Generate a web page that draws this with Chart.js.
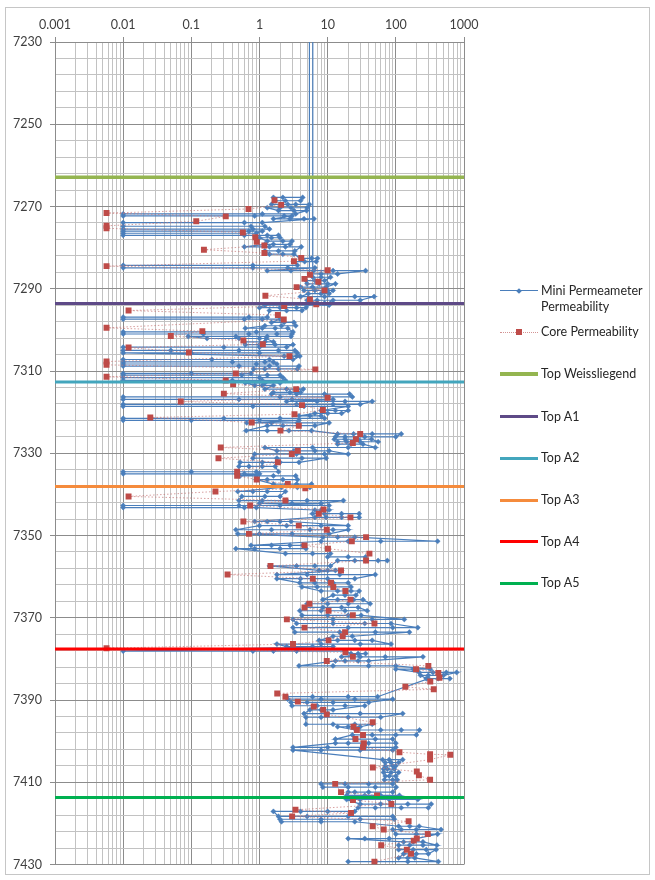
<!DOCTYPE html>
<html>
<head>
<meta charset="utf-8">
<script src="https://cdn.jsdelivr.net/npm/chart.js@4.4.1/dist/chart.umd.min.js"></script>
<style>
  body { margin: 0; background: #fff; }
  #wrap { position: relative; width: 655px; height: 880px; }
  #frame { position: absolute; left: 5px; top: 7px; width: 645px; height: 868px; border: 1px solid #c6c6c6; box-sizing: border-box; }
  #chart { position: absolute; left: 0; top: 0; }
  #legend { position: absolute; left: 0; top: 0; font: 12.5px Lato, sans-serif; color: #262626; }
  .item { position: absolute; left: 500px; width: 150px; }
  .sym { position: absolute; left: 0; width: 38px; height: 10px; }
  .txt { position: absolute; left: 41px; width: 108px; line-height: 16px; }
</style>
</head>
<body>
<div id="wrap">
  <div id="frame"></div>
  <canvas id="chart" width="655" height="880"></canvas>
  <div id="legend"></div>
</div>
<script>
// axis
const decades = [0.001, 0.01, 0.1, 1, 10, 100, 1000];
const depthMin = 7230;
const depthMax = 7430;
const depthLabelStep = 20;
const depthGridStep = 4;

// mini permeameter: one depth per row, several readings per depth
const miniDepth = [
  7267.8, 7268.6, 7269.5, 7270.3, 7271.0, 7271.8, 7272.3, 7273.0, 7273.9, 7274.8,
  7275.5, 7276.0, 7276.5, 7277.0, 7277.6, 7278.4, 7279.2, 7279.8, 7280.8, 7281.6,
  7282.6, 7283.4, 7284.3, 7284.9, 7285.6, 7286.4, 7200.0, 7287.2, 7288.0, 7288.8,
  7289.6, 7290.4, 7291.2, 7291.9, 7292.8, 7293.5, 7294.0, 7294.6, 7295.3, 7296.9,
  7297.4, 7298.2, 7299.0, 7299.6, 7300.5, 7301.0, 7301.6, 7302.1, 7302.9, 7303.6,
  7304.2, 7305.0, 7305.6, 7306.4, 7307.2, 7307.8, 7308.3, 7308.8, 7309.5, 7310.6,
  7311.0, 7311.6, 7312.3, 7312.9, 7313.5, 7314.4, 7315.2, 7315.6, 7316.3, 7316.9,
  7317.4, 7318.1, 7318.6, 7319.6, 7320.3, 7320.9, 7321.5, 7322.0, 7322.6, 7323.3,
  7324.5, 7325.3, 7326.0, 7326.6, 7327.2, 7327.8, 7328.6, 7329.4, 7330.2, 7331.2,
  7332.2, 7333.2, 7334.5, 7335.0, 7335.5, 7336.4, 7337.5, 7338.3, 7339.3, 7340.5,
  7341.5, 7342.2, 7342.7, 7343.2, 7343.8, 7344.7, 7345.6, 7346.6, 7347.6, 7348.6,
  7349.6, 7350.4, 7351.4, 7352.4, 7353.2, 7354.4, 7355.2, 7356.1, 7357.4, 7358.5,
  7359.5, 7360.5, 7361.5, 7362.5, 7363.5, 7364.5, 7365.6, 7366.6, 7367.5, 7368.3,
  7369.4, 7370.4, 7371.4, 7372.4, 7373.5, 7374.5, 7375.5, 7376.4, 7377.0, 7378.1,
  7378.7, 7379.5, 7380.5, 7381.7, 7382.5, 7383.3, 7384.0, 7384.8, 7389.2, 7389.8,
  7390.6, 7391.4, 7392.4, 7393.3, 7394.2, 7395.9, 7396.5, 7397.3, 7398.5, 7399.5,
  7400.5, 7401.5, 7402.2, 7404.5, 7405.2, 7406.0, 7406.8, 7407.6, 7408.5, 7409.4,
  7410.4, 7411.2, 7412.4, 7413.2, 7414.2, 7415.3, 7416.2, 7417.1, 7418.3, 7419.0,
  7419.6, 7420.7, 7421.5, 7422.6, 7423.7, 7424.5, 7425.3, 7426.4, 7427.4, 7428.4,
  7429.3
];
const miniPerm = [
  [1.6, 2.2, 4.3], [4.0, 2.4, 1.7], [1.5, 2.6, 3.4, 5.4], [5.0, 2.9, 2.0, 1.3], [1.9, 3.2, 4.9],
  [3.4, 1.1, 0.01], [0.01, 0.85, 2.3, 3.0], [1.6, 2.8, 4.5, 6.3], [1.1, 0.6, 0.01], [0.01, 0.75, 1.2],
  [1.4, 0.8, 0.01], [0.01, 0.7, 1.1], [0.9, 0.01], [0.01, 0.6, 1.3, 1.9], [2.0, 1.5, 1.0],
  [1.3, 2.2, 3.0], [2.8, 1.6, 1.2], [0.6, 1.4, 2.4, 4.1], [3.3, 1.9, 1.2], [1.4, 2.2, 3.2],
  [4.0, 5.8, 7.1], [6.8, 4.6, 3.2], [3.6, 0.8, 0.01], [0.01, 0.8, 2.6, 6.5], [1.3, 2.9, 6.2, 12, 36],
  [14, 8, 5.4], [5.4, 6.05], [6.05, 8.0, 11], [9.0, 6.5, 4.8], [5.0, 7.5, 10.0, 13],
  [9.5, 6.0, 4.0], [4.5, 6.5, 10.0, 12], [10.5, 8.0, 5.2], [4.0, 9.0, 25, 48], [30, 12, 7, 5],
  [6, 9, 11], [10.5, 5, 2.3, 1.2], [1.0, 2.0, 3.5, 4.8], [4.2, 2.5, 1.4], [1.3, 0.7, 0.01],
  [0.01, 0.6, 1.1, 2.0], [1.5, 2.3, 3.2], [3.4, 2.1, 1.2], [0.62, 1.1, 1.7, 2.6], [3.1, 0.9, 0.15, 0.01],
  [0.01, 0.15, 0.7, 1.8, 3.0], [2.9, 1.3, 0.45, 0.09], [0.17, 0.5, 1.0, 1.25], [1.6, 1.2, 0.6], [0.62, 1.0, 1.7, 3.1],
  [2.5, 1.0, 0.3, 0.01], [0.01, 0.05, 0.5, 1.9, 3.3], [3.6, 1.0, 0.1, 0.01], [2.3, 2.9, 3.5, 3.9], [3.1, 1.4, 0.2, 0.01],
  [0.01, 0.4, 1.2, 1.6], [1.8, 0.9, 0.01], [0.01, 0.5, 1.4, 3.8], [3.6, 1.9, 1.2, 0.82], [0.75, 0.1, 0.01],
  [0.01, 0.55, 1.3, 2.0], [2.2, 1.0, 0.01], [0.01, 0.4, 1.1, 2.4], [2.0, 1.2, 0.62], [0.85, 1.1, 1.6],
  [1.2, 2.5, 3.6, 4.4], [4.0, 2.8, 1.6], [1.5, 3.5, 9.0, 21], [23, 10, 2.0, 0.01], [0.01, 0.5, 3.0, 12],
  [2.5, 7, 18, 45], [30, 12, 3.5, 0.01], [0.01, 0.8, 4.5, 20], [8.0, 13, 20], [16, 10, 6.5],
  [3.8, 5.5, 8.0], [9.0, 2.0, 0.3, 0.01], [0.01, 0.1, 1.0, 3.8], [0.65, 1.5, 3.6, 10.5], [6.5, 3.8, 2.2, 1.3],
  [0.64, 1.3, 2.7, 5.8], [14, 24, 45, 120], [100, 35, 18, 13], [12.5, 18, 28, 44], [55, 30, 19, 14],
  [14, 22, 33], [50, 20, 6.0, 1.2], [1.8, 3.2, 6.5, 10.5], [20, 9, 3.5, 0.85], [0.8, 1.8, 4.2, 9.5],
  [3.8, 2.0, 1.1, 0.52], [0.5, 0.7, 1.1, 1.7], [1.9, 0.9, 0.1, 0.01], [0.01, 0.6, 1.0], [0.52, 0.9, 1.6, 3.4],
  [3.6, 2.2, 1.3, 0.9], [1.6, 2.5, 3.5, 5.8], [5.5, 3.6, 2.1], [0.48, 0.8, 1.3, 2.4], [2.0, 1.2, 0.55],
  [0.5, 1.1, 2.5, 5.0, 17], [8.0, 3.0, 1.0], [10.5, 2.0, 0.5, 0.01], [0.01, 0.6, 0.9], [6.5, 8, 10.5],
  [6.0, 9.0, 16, 29], [29, 16, 9.5, 6.5], [0.85, 1.3, 2.0, 2.9], [20, 8, 2.5, 1.0], [0.45, 1.5, 5.5, 12, 20],
  [10.5, 3.0, 1.0, 0.48], [8.5, 14, 25], [410, 60, 20, 8], [0.75, 1.5, 2.8, 4.3], [4.8, 2.0, 0.85, 0.45],
  [2.4, 6.0, 11], [10, 20, 36], [36, 55, 75, 25, 14], [11, 6.5, 3.5, 1.4], [7.5, 10, 13, 16],
  [1.8, 5, 15, 50], [25, 10, 4, 1.8], [3.9, 6.5, 12, 20], [22, 12, 7.0, 4.2], [8, 14, 22, 29],
  [26, 18, 12], [8.5, 14, 24, 33], [42, 20, 10, 5.0], [4.6, 8.5, 16, 28], [38, 18, 8, 3.9],
  [4.2, 10, 20, 31], [133, 45, 12, 3.1], [3.5, 12, 35, 85], [210, 90, 20, 3.1], [3.3, 15, 50, 158],
  [23, 17, 12], [7.5, 14, 25, 45], [85, 30, 8, 1.8], [2.5, 6, 12], [0.01, 0.8, 1.6, 3.5, 18],
  [22, 28, 36], [16, 30, 70, 250], [40, 28, 18, 13], [3.8, 12, 40, 100], [320, 180, 100],
  [220, 350, 550, 780], [500, 300, 230], [280, 420, 620, 300], [54, 20, 6, 2.5], [2.6, 8, 25, 90],
  [40, 12, 5, 2.9], [3.0, 7.0, 18, 35], [12, 8, 5.5], [4.5, 10, 30, 126], [60, 20, 8.0, 4.8],
  [4.8, 12, 25, 45], [30, 20, 14], [26, 60, 120, 222], [200, 100, 45, 23], [13, 25, 50, 90],
  [100, 40, 20, 13], [3.1, 10, 35, 100], [90, 30, 8, 3.1], [64, 80, 126], [110, 85, 70],
  [70, 90, 100], [95, 75, 66], [66, 85, 110], [100, 80, 70], [68, 90, 105],
  [90, 40, 18, 8.0], [8.5, 20, 50, 101], [90, 40, 25, 20], [19, 35, 60, 113], [210, 80, 30, 19],
  [30, 60, 150, 330], [300, 120, 50, 28], [25, 10, 4, 1.6], [1.9, 5, 20, 90], [95, 30, 8, 2.0],
  [2.1, 8, 25], [110, 160, 220], [460, 200, 120, 90], [100, 200, 300, 410], [200, 80, 35, 20],
  [130, 180, 250], [400, 250, 160, 110], [110, 180, 280, 390], [300, 200, 130], [110, 150, 190],
  [420, 150, 50, 20]
];

// core plugs
const coreDepth = [
  7268.5, 7269.6, 7270.6, 7271.6, 7272.4, 7273.6, 7274.7, 7275.3, 7276.3, 7277.5,
  7278.6, 7279.5, 7280.5, 7281.3, 7282.5, 7283.3, 7284.5, 7285.5, 7286.6, 7287.6,
  7288.3, 7289.6, 7290.4, 7291.7, 7292.6, 7293.8, 7294.2, 7295.3, 7296.4, 7297.5,
  7299.5, 7300.3, 7301.5, 7302.6, 7303.5, 7304.3, 7305.5, 7306.4, 7307.7, 7308.5,
  7309.6, 7310.6, 7311.4, 7312.3, 7313.2, 7314.4, 7315.5, 7316.5, 7317.4, 7318.3,
  7319.5, 7320.5, 7321.3, 7322.5, 7323.3, 7324.5, 7325.3, 7326.6, 7327.5, 7328.6,
  7329.4, 7330.2, 7331.2, 7332.2, 7334.5, 7335.5, 7336.4, 7337.5, 7338.5, 7339.3,
  7340.5, 7341.5, 7342.7, 7343.7, 7344.7, 7345.6, 7346.6, 7347.6, 7348.6, 7349.6,
  7350.4, 7351.4, 7352.4, 7353.2, 7354.4, 7356.1, 7357.4, 7358.5, 7359.5, 7360.5,
  7361.5, 7362.5, 7363.5, 7365.6, 7366.6, 7367.5, 7368.3, 7369.4, 7370.4, 7371.4,
  7372.4, 7373.5, 7374.5, 7375.5, 7376.4, 7377.4, 7378.4, 7379.5, 7380.5, 7381.7,
  7382.5, 7383.4, 7384.6, 7385.5, 7386.8, 7387.4, 7388.4, 7389.2, 7390.4, 7391.6,
  7392.4, 7393.5, 7395.4, 7396.5, 7397.3, 7398.5, 7399.5, 7400.5, 7401.5, 7402.7,
  7403.2, 7403.3, 7404.5, 7406.4, 7407.4, 7408.3, 7409.4, 7410.4, 7412.4, 7413.2,
  7414.3, 7415.3, 7416.7, 7417.5, 7418.3, 7419.5, 7420.7, 7421.5, 7422.6, 7423.7,
  7424.2, 7425.3, 7426.4, 7427.4, 7429.3
];
const corePerm = [
  1.66, 2.08, 0.69, 0.0057, 0.32, 0.118, 0.0057, 0.0057, 0.57, 0.87,
  0.91, 1.18, 0.153, 1.18, 4.1, 3.2, 0.0057, 10.0, 5.5, 4.56,
  7.3, 3.5, 9.0, 1.22, 5.5, 6.8, 2.3, 0.012, 1.86, 2.27,
  0.0057, 0.145, 0.05, 0.58, 1.12, 0.012, 0.092, 2.75, 0.0057, 0.0057,
  6.6, 0.45, 0.0057, 0.32, 0.41, 3.45, 0.3, 10.0, 0.07, 4.2,
  8.5, 3.26, 0.025, 0.77, 3.77, 2.03, 30, 26, 23.4, 0.27,
  3.65, 2.98, 0.25, 1.86, 0.47, 0.47, 0.91, 2.6, 4.7, 0.226,
  0.012, 2.4, 0.73, 8.7, 7.4, 21.6, 0.58, 3.77, 9.7, 0.7,
  36.6, 22.6, 4.57, 10.1, 41, 36.6, 1.45, 15.7, 0.34, 6.05,
  11.2, 12.1, 18.2, 21.6, 5.4, 4.57, 10.3, 23.4, 2.52, 48.6,
  4.57, 18, 16.6, 10.3, 3.1, 0.0057, 18.2, 23.4, 9.7, 300,
  198, 420, 436, 320, 138, 360, 1.82, 2.4, 3.65, 6.25,
  8.6, 9.7, 45.7, 23.9, 26.8, 33, 25.6, 34, 33, 113,
  318, 630, 318, 46, 203, 218, 318, 12.9, 15.7, 53,
  23.5, 86, 3.37, 22, 3.01, 154, 45.7, 66.4, 294, 203,
  183, 61, 145, 167, 48.5
];

// formation tops
const topNames = ['Top Weissliegend', 'Top A1', 'Top A2', 'Top A3', 'Top A4', 'Top A5'];
const topDepths = [7262.9, 7293.6, 7312.7, 7338.1, 7377.6, 7413.7];
const topColors = ['#94b550', '#5e4a87', '#43a6bd', '#f58b3c', '#ff0000', '#00b050'];

const miniColor = '#4a7ebb';
const coreColor = '#be4b48';

const miniPoints = [];
miniDepth.forEach((d, i) => {
  miniPerm[i].forEach(v => miniPoints.push({ x: v, y: d }));
});
const corePoints = coreDepth.map((d, i) => ({ x: corePerm[i], y: d }));

const isDecade = v => Math.abs(Math.log10(v) - Math.round(Math.log10(v))) < 1e-9;

const datasets = [
  {
    label: 'Mini Permeameter Permeability',
    data: miniPoints,
    showLine: true,
    borderColor: miniColor,
    borderWidth: 1.2,
    pointStyle: 'rectRot',
    pointRadius: 2.6,
    pointBackgroundColor: miniColor,
    pointBorderColor: miniColor,
    pointBorderWidth: 0.5,
    order: 3
  },
  {
    label: 'Core Permeability',
    data: corePoints,
    showLine: true,
    borderColor: 'rgba(200, 120, 120, 0.7)',
    borderWidth: 1,
    borderDash: [1.5, 2],
    pointStyle: 'rect',
    pointRadius: 4.2,
    pointBackgroundColor: coreColor,
    pointBorderColor: coreColor,
    pointBorderWidth: 0,
    order: 2
  }
];
topNames.forEach((name, i) => {
  datasets.push({
    label: name,
    data: [{ x: decades[0], y: topDepths[i] }, { x: decades[decades.length - 1], y: topDepths[i] }],
    showLine: true,
    borderColor: topColors[i],
    borderWidth: i === 0 ? 3.5 : 3,
    pointRadius: 0,
    order: 1
  });
});

const tickFont = { family: 'Lato', size: 12.5 };

const chart = new Chart(document.getElementById('chart'), {
  type: 'scatter',
  data: { datasets: datasets },
  options: {
    responsive: false,
    animation: false,
    layout: { padding: { left: 0, right: 191, top: 0, bottom: 13 } },
    plugins: { legend: { display: false }, tooltip: { enabled: false } },
    scales: {
      x: {
        type: 'logarithmic',
        position: 'top',
        min: decades[0],
        max: decades[decades.length - 1],
        afterBuildTicks: scale => {
          const ticks = [];
          decades.forEach((d, i) => {
            const n = i === decades.length - 1 ? 1 : 9;
            for (let m = 1; m <= n; m++) ticks.push({ value: Number((m * d).toPrecision(10)) });
          });
          scale.ticks = ticks;
        },
        afterFit: scale => { scale.height = 42; },
        ticks: {
          autoSkip: false,
          maxRotation: 0,
          padding: 5,
          color: '#404040',
          font: tickFont,
          callback: v => isDecade(v) ? String(v) : ''
        },
        grid: {
          color: ctx => isDecade(ctx.tick.value) ? '#8c8c8c' : '#c2c2c2',
          tickColor: ctx => isDecade(ctx.tick.value) ? '#8c8c8c' : 'rgba(0,0,0,0)',
          tickLength: 5,
          lineWidth: 1
        },
        border: { color: '#8c8c8c' }
      },
      y: {
        type: 'linear',
        reverse: true,
        min: depthMin,
        max: depthMax,
        afterBuildTicks: scale => {
          const ticks = [];
          for (let d = depthMin; d <= depthMax; d += depthGridStep) ticks.push({ value: d });
          scale.ticks = ticks;
        },
        afterFit: scale => { scale.width = 55; },
        ticks: {
          autoSkip: false,
          padding: 8,
          color: '#404040',
          font: tickFont,
          callback: v => (v - depthMin) % depthLabelStep === 0 ? String(v) : ''
        },
        grid: {
          color: ctx => (ctx.tick.value - depthMin) % depthLabelStep === 0 ? '#8c8c8c' : '#c2c2c2',
          tickColor: ctx => (ctx.tick.value - depthMin) % depthLabelStep === 0 ? '#8c8c8c' : 'rgba(0,0,0,0)',
          tickLength: 5,
          lineWidth: 1
        },
        border: { color: '#8c8c8c' }
      }
    }
  }
});

// legend on the right
const legendY = [290.7, 332, 374, 416.7, 458, 500, 541.7, 583];
const legend = document.getElementById('legend');
chart.data.datasets.forEach((ds, i) => {
  const item = document.createElement('div');
  item.className = 'item';
  item.style.top = (legendY[i] - 8) + 'px';
  const sym = document.createElement('div');
  sym.className = 'sym';
  sym.style.top = '3px';
  if (i === 0) {
    sym.innerHTML = '<div style="position:absolute;left:0;top:4.5px;width:38px;height:1px;background:' + miniColor + '"></div>' +
      '<div style="position:absolute;left:17px;top:3px;width:4px;height:4px;background:' + miniColor + ';transform:rotate(45deg)"></div>';
  } else if (i === 1) {
    sym.innerHTML = '<div style="position:absolute;left:0;top:4.5px;width:38px;height:0;border-top:1px dotted rgba(200,120,120,0.8)"></div>' +
      '<div style="position:absolute;left:16px;top:2px;width:6px;height:6px;background:' + coreColor + '"></div>';
  } else {
    sym.innerHTML = '<div style="position:absolute;left:0;top:' + (i === 2 ? 3.3 : 3.5) + 'px;width:38px;height:' + (i === 2 ? 3.5 : 3) + 'px;background:' + ds.borderColor + '"></div>';
  }
  const txt = document.createElement('div');
  txt.className = 'txt';
  txt.textContent = ds.label;
  item.appendChild(sym);
  item.appendChild(txt);
  legend.appendChild(item);
});
</script>
</body>
</html>
